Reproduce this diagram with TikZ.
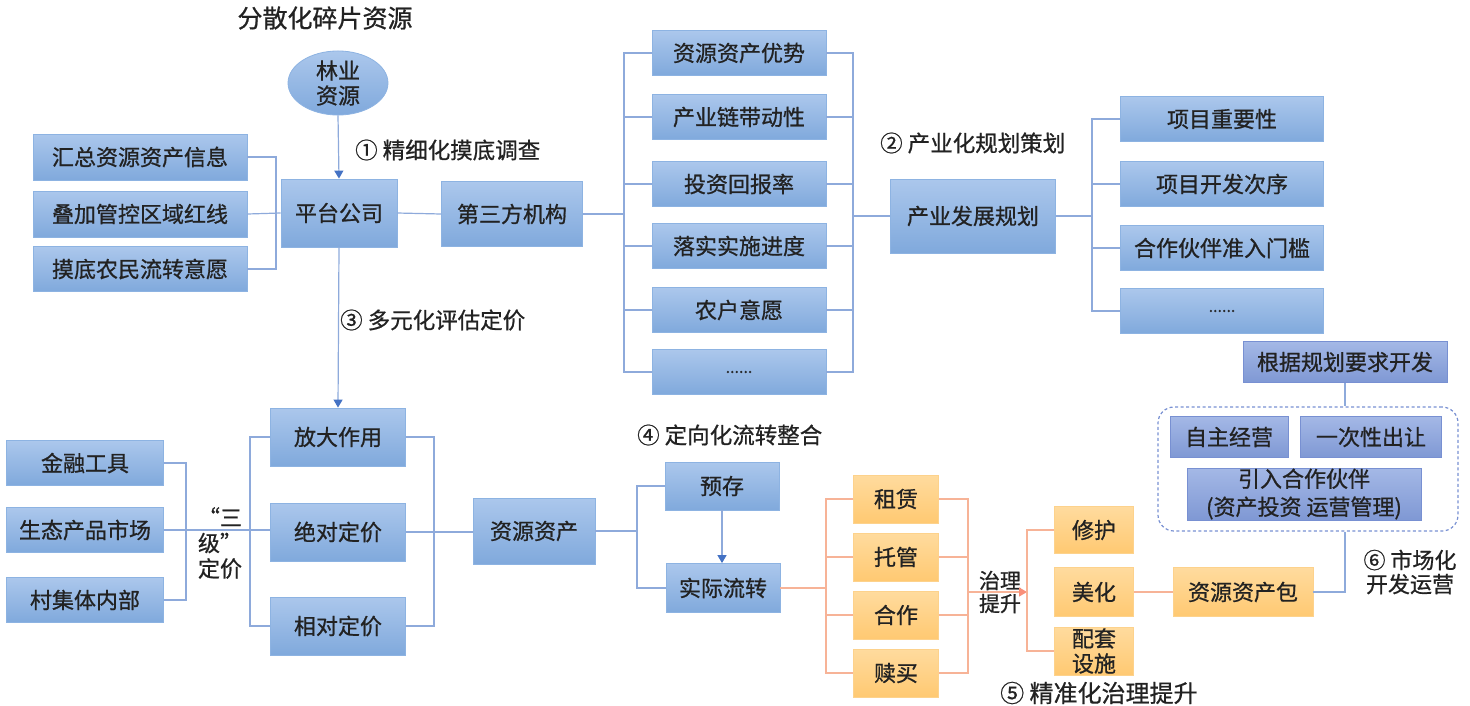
\documentclass[tikz,border=0pt]{standalone}
\usepackage{fontspec}
\setmainfont{Noto Sans CJK SC}[FakeBold=0.8]
\usetikzlibrary{shapes.geometric,arrows.meta}
\definecolor{btop}{HTML}{ABC7EC}
\definecolor{bbot}{HTML}{80A9DC}
\definecolor{bbord}{HTML}{8DB3E2}
\definecolor{ptop}{HTML}{A4B8E6}
\definecolor{pbot}{HTML}{7F98D4}
\definecolor{pbord}{HTML}{7890D2}
\definecolor{otop}{HTML}{FFDB9E}
\definecolor{obot}{HTML}{FFC972}
\definecolor{obord}{HTML}{FDD28C}
\definecolor{blc}{HTML}{8EAADB}
\definecolor{olc}{HTML}{F7B397}
\definecolor{arc}{HTML}{4472C4}
\definecolor{txt}{HTML}{222222}
\begin{document}
\begin{tikzpicture}[x=1pt,y=-1pt,
  every node/.style={text=txt},
  bbox/.style 2 args={draw=bbord, line width=0.8pt, top color=btop, bottom color=bbot,
     minimum width=#1pt, minimum height=#2pt, inner sep=0pt, align=center,
     font=\fontsize{22}{26}\selectfont},
  pbox/.style 2 args={draw=pbord, line width=0.8pt, top color=ptop, bottom color=pbot,
     minimum width=#1pt, minimum height=#2pt, inner sep=0pt, align=center,
     font=\fontsize{22}{28}\selectfont},
  obox/.style 2 args={draw=obord, line width=0.8pt, top color=otop, bottom color=obot,
     minimum width=#1pt, minimum height=#2pt, inner sep=0pt, align=center,
     font=\fontsize{22}{25}\selectfont},
  lab/.style={font=\fontsize{22.5}{27}\selectfont, inner sep=0pt, anchor=west},
  bl/.style={draw=blc, line width=1.2pt},
  ol/.style={draw=olc, line width=1.2pt},
  barrow/.style={bl, -{Triangle[width=9pt,length=8pt,color=arc]}},
  oarrow/.style={ol, -{Triangle[width=9pt,length=8pt,color=olc!80!red]}},
]
\useasboundingbox (0,0) rectangle (1470,705);

% title
\node[font=\fontsize{25}{30}\selectfont, inner sep=0pt] (title) at (325,18) {分散化碎片资源};

% ellipse
\node[ellipse, draw=bbord, line width=0.8pt, top color=btop, bottom color=bbot,
  minimum width=100pt, minimum height=60pt, inner sep=0pt, align=center,
  font=\fontsize{22}{25}\selectfont] (ly) at (338,83) {林业\\资源};

% top-left boxes
\node[bbox={214}{46}] (l1) at (140,157) {汇总资源资产信息};
\node[bbox={214}{46}] (l2) at (140,214) {叠加管控区域红线};
\node[bbox={214}{45}] (l3) at (140,269) {摸底农民流转意愿};
\node[bbox={116}{68}] (pt) at (339,213) {平台公司};
\node[bbox={141}{65}] (dsf) at (512,214) {第三方机构};

% middle column
\node[bbox={174}{45}] (m1) at (739,53) {资源资产优势};
\node[bbox={174}{45}] (m2) at (739,117) {产业链带动性};
\node[bbox={174}{45}] (m3) at (739,184) {投资回报率};
\node[bbox={174}{45}] (m4) at (739,246) {落实实施进度};
\node[bbox={174}{45}] (m5) at (739,310) {农户意愿};
\node[bbox={174}{45}, font=\fontsize{16}{20}\selectfont] (m6) at (739,372) {......};

\node[bbox={165}{74}] (cy) at (973,216) {产业发展规划};

\node[bbox={203}{45}] (r1) at (1222,119) {项目重要性};
\node[bbox={203}{45}] (r2) at (1222,184) {项目开发次序};
\node[bbox={203}{45}] (r3) at (1222,248) {合作伙伴准入门槛};
\node[bbox={203}{45}, font=\fontsize{16}{20}\selectfont] (r4) at (1222,311) {......};

% right purple group
\node[pbox={204}{41}] (gj) at (1345,362) {根据规划要求开发};
\node[draw=pbord, line width=1.2pt, dash pattern=on 3pt off 2.5pt, rounded corners=16pt,
  minimum width=300pt, minimum height=124pt, inner sep=0pt] (grp) at (1308,469) {};
\node[pbox={118}{41}] (zz) at (1229,437) {自主经营};
\node[pbox={141}{41}] (yc) at (1371,437) {一次性出让};
\node[pbox={234}{52}] (yr) at (1304,494) {引入合作伙伴\\(资产投资 运营管理)};
\node[obox={140}{49}] (zyb) at (1243,592) {资源资产包};

% bottom-left
\node[bbox={157}{45}] (b1) at (85,463) {金融工具};
\node[bbox={157}{45}] (b2) at (85,530) {生态产品市场};
\node[bbox={157}{45}] (b3) at (85,600) {村集体内部};
\node[bbox={135}{58}] (f1) at (338,437) {放大作用};
\node[bbox={135}{58}] (f2) at (338,532) {绝对定价};
\node[bbox={135}{58}] (f3) at (338,626) {相对定价};
\node[bbox={122}{66}] (zy) at (534,531) {资源资产};

\node[bbox={114}{48}] (yu) at (722,486) {预存};
\node[bbox={114}{49}] (sj) at (723,588) {实际流转};

\node[obox={85}{48}] (o1) at (896,499) {租赁};
\node[obox={85}{48}] (o2) at (896,557) {托管};
\node[obox={85}{48}] (o3) at (896,615) {合作};
\node[obox={85}{48}] (o4) at (896,673) {赎买};

\node[obox={79}{47}] (p1) at (1094,530) {修护};
\node[obox={79}{49}] (p2) at (1094,592) {美化};
\node[obox={79}{48}] (p3) at (1094,651) {配套\\设施};

% labels
\node[lab] (lab1) at (355,150) {① 精细化摸底调查};
\node[lab] (lab2) at (880,143) {② 产业化规划策划};
\node[lab] (lab3) at (340,320) {③ 多元化评估定价};
\node[lab] (lab4) at (637,435) {④ 定向化流转整合};
\node[lab, font=\fontsize{24}{28}\selectfont] (lab5) at (1000,693) {⑤ 精准化治理提升};
\node[font=\fontsize{22}{24}\selectfont, align=center, inner sep=0pt] (lab6) at (1410,572) {⑥ 市场化\\开发运营};
\node[font=\fontsize{22}{25.5}\selectfont, align=center, inner sep=0pt] (sanji) at (220,543) {“三\\级”\\定价};
\node[font=\fontsize{21}{23}\selectfont, align=center, inner sep=0pt] (zl) at (1000,592) {治理\\提升};

% bracket x coordinates
\coordinate (bxA) at (276,0);
\coordinate (bxB) at (624,0);
\coordinate (bxC) at (853,0);
\coordinate (bxD) at (1092,0);
\coordinate (bxE) at (186,0);
\coordinate (bxF) at (250,0);
\coordinate (bxG) at (434,0);
\coordinate (bxH) at (637,0);
\coordinate (bxI) at (826,0);
\coordinate (bxJ) at (968,0);
\coordinate (bxK) at (1027,0);

% connectors top-left
\draw[bl] (l1.east) -- (l1.east -| bxA) |- (l3.east);
\draw[bl] (l2.east) -- (pt.west);
\draw[barrow] (ly.south) -- (pt.north);
\draw[bl] (pt.east) -- (dsf.west);
\draw[bl] (dsf.east) -- (dsf.east -| bxB);
\draw[bl] (m1.west) -- (m1.west -| bxB) |- (m6.west);
\foreach \n in {m2,m3,m4,m5} \draw[bl] (\n.west) -- (\n.west -| bxB);
\draw[bl] (m1.east) -- (m1.east -| bxC) |- (m6.east);
\foreach \n in {m2,m3,m4,m5} \draw[bl] (\n.east) -- (\n.east -| bxC);
\draw[bl] (cy.west -| bxC) -- (cy.west);
\draw[bl] (cy.east) -- (cy.east -| bxD);
\draw[bl] (r1.west) -- (r1.west -| bxD) |- (r4.west);
\foreach \n in {r2,r3} \draw[bl] (\n.west) -- (\n.west -| bxD);

% right group
\draw[bl] (gj.south) -- (gj.south |- grp.north);
\draw[bl] (grp.south -| gj.south) |- (zyb.east);

% bottom-left
\draw[barrow] (pt.south) -- (f1.north);
\draw[bl] (b1.east) -- (b1.east -| bxE) |- (b3.east);
\draw[bl] (b2.east) -- (b2.east -| f2.west);
\draw[bl] (f1.west) -- (f1.west -| bxF) |- (f3.west);
\draw[bl] (f1.east) -- (f1.east -| bxG) |- (f3.east);
\draw[bl] (f2.east) -- (zy.west |- f2.east);
\draw[bl] (zy.east) -- (zy.east -| bxH);
\draw[bl] (yu.west) -- (yu.west -| bxH) |- (sj.west);
\draw[barrow] (yu.south) -- (yu.south |- sj.north);

% orange part
\draw[ol] (sj.east) -- (sj.east -| bxI);
\draw[ol] (o1.west) -- (o1.west -| bxI) |- (o4.west);
\foreach \n in {o2,o3} \draw[ol] (\n.west) -- (\n.west -| bxI);
\draw[ol] (o1.east) -- (o1.east -| bxJ) |- (o4.east);
\foreach \n in {o2,o3} \draw[ol] (\n.east) -- (\n.east -| bxJ);
\draw[oarrow] (p2.west -| bxJ) -- (p2.west -| bxK);
\draw[ol] (p1.west) -- (p1.west -| bxK) |- (p3.west);
\draw[ol] (p2.east) -- (zyb.west);
\end{tikzpicture}
\end{document}
